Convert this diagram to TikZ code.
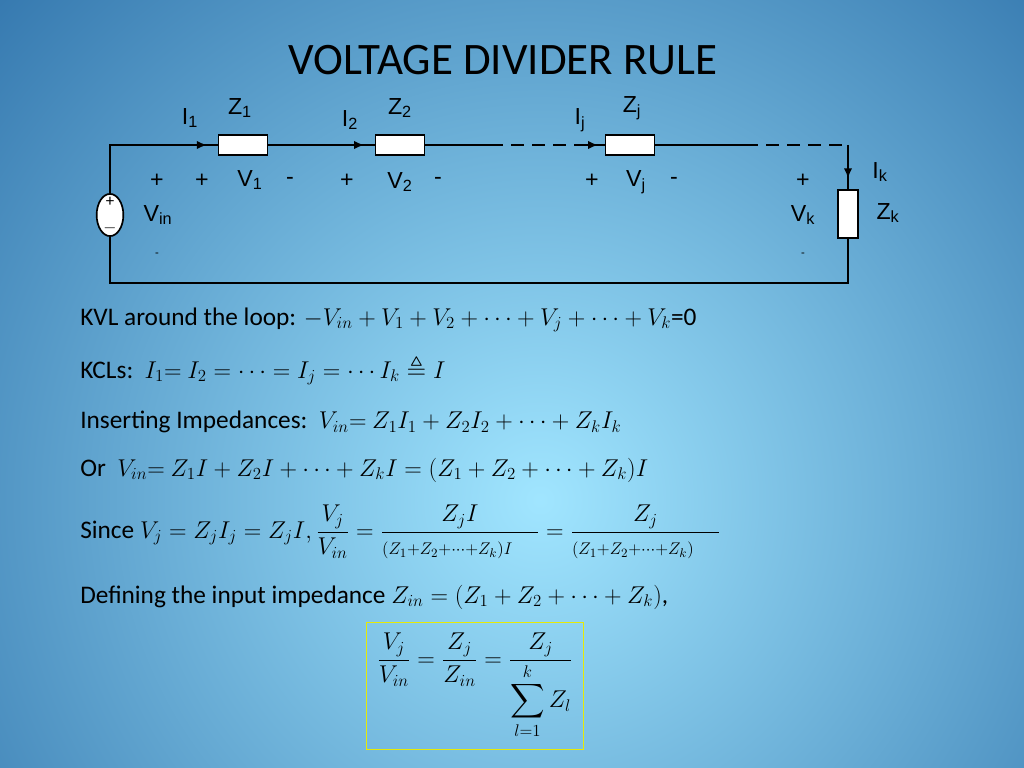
\documentclass[tikz,border=0pt]{standalone}
\usepackage{amsmath,amssymb}
\usepackage{fontspec}
\setmainfont{Carlito}
\newfontfamily\arialfont{Liberation Sans}
\usetikzlibrary{arrows.meta,positioning,decorations.markings,shapes.geometric}
\tikzset{
  wire/.style={line width=1.2pt},
  imped/.style={draw,line width=1.2pt,fill=white,minimum width=35pt,minimum height=14pt,inner sep=0pt},
  lbl/.style={font=\arialfont\fontsize{16.5}{18}\selectfont,inner sep=1pt},
  eqline/.style={anchor=west,font=\fontsize{18}{21}\selectfont,inner sep=0pt},
  curarrow/.style={decoration={markings,mark=at position #1 with {\arrow{Latex[length=7pt,width=6pt]}}},postaction={decorate}}
}
\begin{document}
\begin{tikzpicture}[x=0.025cm,y=-0.025cm]
    % background
    \useasboundingbox (0,0) rectangle (1024,768);
    \clip (0,0) rectangle (1024,768);
    \shade[inner color=cyan!30!white!90!blue, outer color=blue!45!cyan!60!black!80!white] (540,500) circle (760);

    % title
    \node[font=\fontsize{32}{36}\selectfont] (title) at (503,60) {VOLTAGE DIVIDER RULE};

    % circuit corners
    \coordinate (tl) at (110,145);
    \coordinate (tr) at (848,145);
    \coordinate (bl) at (110,283);
    \coordinate (br) at (848,283);
    \node[draw,line width=1.2pt,fill=white,ellipse,minimum width=19pt,minimum height=30pt,inner sep=0pt] (src) at (110,215) {};
    \node[font=\fontsize{12}{12}\selectfont,inner sep=0pt] at (110,202) {+};
    \node[font=\fontsize{12}{12}\selectfont,inner sep=0pt] at (110,228) {$-$};
    \node[imped] (z1) at (243,145) {};
    \node[imped] (z2) at (400,145) {};
    \node[imped] (zj) at (630,145) {};
    \node[imped,minimum width=14pt,minimum height=34pt] (zk) at (848,214) {};
    \coordinate (d1) at (490,145);
    \coordinate (d2) at (578,145);
    \coordinate (d3) at (745,145);

    % wires
    \draw[wire] (src.north) -- (tl) -- (z1.west);
    \draw[wire,curarrow=0.9] (tl) -- (z1.west);
    \draw[wire,curarrow=0.9] (z1.east) -- (z2.west);
    \draw[wire] (z2.east) -- (d1);
    \draw[wire,dash pattern=on 9pt off 6pt] (d1) -- (d2);
    \draw[wire,curarrow=0.75] (d2) -- (zj.west);
    \draw[wire] (zj.east) -- (d3);
    \draw[wire,dash pattern=on 9pt off 6pt] (d3) -- (tr);
    \draw[wire,curarrow=0.75] (tr) -- (zk.north);
    \draw[wire] (zk.south) -- (br) -- (bl) -- (src.south);

    % labels
    \node[lbl] (i1) at (190,118) {I\textsubscript{1}};
    \node[lbl] (z1l) at (240,108) {Z\textsubscript{1}};
    \node[lbl] (i2) at (350,120) {I\textsubscript{2}};
    \node[lbl] (z2l) at (400,108) {Z\textsubscript{2}};
    \node[lbl] (ijl) at (580,120) {I\textsubscript{j}};
    \node[lbl] (zjl) at (632,108) {Z\textsubscript{j}};
    \node[lbl] (ikl) at (880,172) {I\textsubscript{k}};
    \node[lbl] (zkl) at (888,213) {Z\textsubscript{k}};
    \node[lbl] (vin) at (158,215) {V\textsubscript{in}};
    \node[lbl] (vk) at (803,215) {V\textsubscript{k}};
    \foreach \x/\t in {157/+, 202/+, 290/-, 347/+, 438/-, 592/+, 674/-, 803/+}
        \node[lbl] at (\x,181) {\t};
    \node[lbl] (v1) at (250,180) {V\textsubscript{1}};
    \node[lbl] (v2) at (400,182) {V\textsubscript{2}};
    \node[lbl] (vj) at (636,182) {V\textsubscript{j}};
    \node[lbl,font=\arialfont\fontsize{8}{8}\selectfont] at (157,255) {-};
    \node[lbl,font=\arialfont\fontsize{8}{8}\selectfont] at (803,255) {-};

    % equations
    \node[eqline] (kvl) at (80,320) {KVL around the loop: $-V_{in}+V_1+V_2+\cdots+V_j+\cdots+V_k$=0};
    \node[eqline] (kcl) at (80,370) {KCLs:\ \ $I_1{=}\ I_2=\cdots=I_j=\cdots I_k\triangleq I$};
    \node[eqline] (ins) at (80,422) {Inserting Impedances:\ \ $V_{in}{=}\ Z_1I_1+Z_2I_2+\cdots+Z_kI_k$};
    \node[eqline] (or) at (80,470) {Or\ \ $V_{in}{=}\ Z_1I+Z_2I+\cdots+Z_kI=(Z_1+Z_2+\cdots+Z_k)I$};
    \node[eqline] (since) at (80,532) {Since $V_j=Z_jI_j=Z_jI,\dfrac{V_j}{V_{in}}=\dfrac{Z_jI}{\scriptstyle(Z_1+Z_2+\cdots+Z_k)I\quad}=\dfrac{Z_j}{\scriptstyle(Z_1+Z_2+\cdots+Z_k)\quad}$};
    \node[eqline] (def) at (80,597) {Defining the input impedance $Z_{in}=(Z_1+Z_2+\cdots+Z_k)$,};
    \node[draw=yellow!90!green,line width=0.8pt,minimum width=154pt,minimum height=90pt,font=\fontsize{17}{20}\selectfont] (res) at (475,686)
        {$\dfrac{V_j}{V_{in}}=\dfrac{Z_j}{Z_{in}}=\dfrac{Z_j}{\displaystyle\sum_{l=1}^{k}Z_l}$};
\end{tikzpicture}
\end{document}
